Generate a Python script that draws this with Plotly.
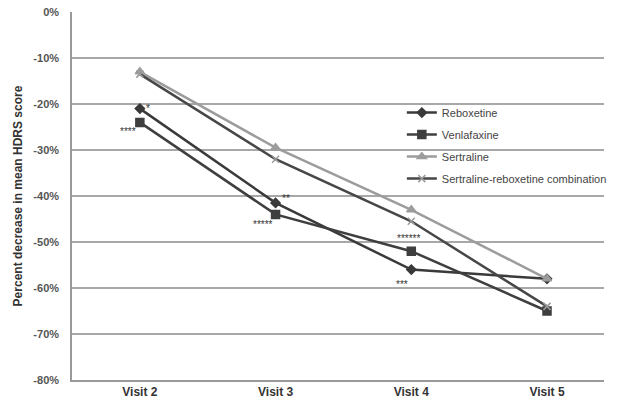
import plotly.graph_objects as go

visits = ["Visit 2", "Visit 3", "Visit 4", "Visit 5"]
reboxetine = [-21, -41.5, -56, -58]
venlafaxine = [-24, -44, -52, -65]
sertraline = [-13, -29.5, -43, -58]
combination = [-13.5, -32, -45.5, -64]

y_ticks = [0, -10, -20, -30, -40, -50, -60, -70, -80]
y_tick_labels = ["0%", "-10%", "-20%", "-30%", "-40%", "-50%", "-60%", "-70%", "-80%"]

sig_text = ["*", "****", "**", "*****", "******", "***"]
sig_x = [0.06, -0.09, 1.08, 0.91, 1.98, 1.93]
sig_y = [-21, -26, -40.6, -46.2, -49.3, -59.2]

xpos = list(range(len(visits)))

fig = go.Figure()
series = [
    ("Reboxetine", reboxetine, "#3a3a3a", "diamond", 7, "#3a3a3a"),
    ("Venlafaxine", venlafaxine, "#3f3f3f", "square", 8, "#3f3f3f"),
    ("Sertraline", sertraline, "#9c9c9c", "triangle-up", 8, "#9c9c9c"),
    ("Sertraline-reboxetine combination", combination, "#474747", "x-thin", 7, "#9a9a9a"),
]
for i, (name, vals, col, sym, sz, mcol) in enumerate(series):
    fig.add_trace(go.Scatter(
        x=xpos, y=vals, name=name, mode="lines+markers",
        line=dict(color=col, width=2.5),
        marker=dict(symbol=sym, size=sz, color=mcol, line=dict(color=mcol, width=1.5)),
        legendgroup=f"g{i}",
    ))

for t, x, y in zip(sig_text, sig_x, sig_y):
    fig.add_annotation(x=x, y=y, text=t, showarrow=False,
                       font=dict(family="Liberation Sans", size=10, color="#333"))

fig.update_layout(
    width=618, height=413,
    margin=dict(l=72, r=6, t=12, b=33),
    paper_bgcolor="white", plot_bgcolor="white",
    font=dict(family="Liberation Sans", color="#444"),
    showlegend=True,
    legend=dict(x=0.62, y=0.766, xanchor="left", yanchor="top",
                bgcolor="rgba(0,0,0,0)", font=dict(size=11, color="#444"),
                tracegroupgap=3, traceorder="grouped"),
    xaxis=dict(range=[-0.5, 3.42], tickvals=xpos, ticktext=visits, automargin=False,
               showgrid=False, zeroline=False, showline=True,
               linecolor="#999", linewidth=1.5, ticks="",
               tickfont=dict(family="Liberation Sans", size=12, color="#333", weight="bold")),
    yaxis=dict(range=[-80, 0], tickvals=y_ticks, ticktext=y_tick_labels, automargin=False,
               showgrid=True, gridcolor="#a8a8a8", gridwidth=1.5,
               zeroline=False, showline=True, linecolor="#999", linewidth=1.5,
               ticks="", ticklen=0, ticklabelstandoff=9,
               tickfont=dict(family="Liberation Sans", size=11, color="#555", weight="bold"),
               title=dict(text="Percent decrease in mean HDRS score",
                          font=dict(family="Liberation Sans", size=12, color="#333", weight="bold"),
                          standoff=8)),
)

fig.write_html("out.html", config={"displayModeBar": False},
               post_script="document.body.style.margin='0';")
